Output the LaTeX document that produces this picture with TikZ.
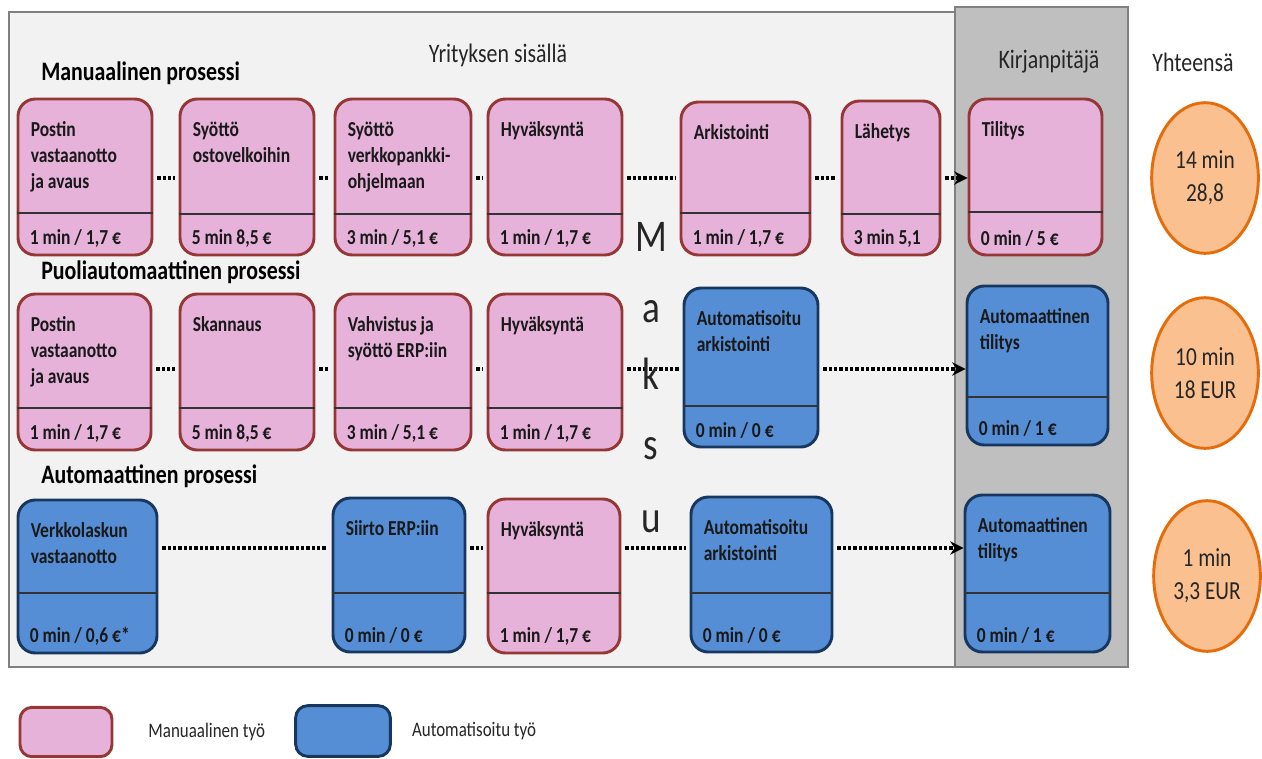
\documentclass[tikz,border=0pt]{standalone}
\usepackage{fontspec}
\setmainfont{Carlito}[FakeStretch=0.82]
\usetikzlibrary{arrows.meta,shapes.geometric,positioning}

\definecolor{rosa}{RGB}{230,178,218}
\definecolor{rosareuna}{RGB}{149,55,53}
\definecolor{sininen}{RGB}{85,142,213}
\definecolor{sinireuna}{RGB}{23,55,94}
\definecolor{oranssi}{RGB}{250,192,144}
\definecolor{oranssireuna}{RGB}{228,108,10}
\definecolor{paneeli}{RGB}{242,242,242}
\definecolor{sarake}{RGB}{191,191,191}
\definecolor{reuna}{RGB}{128,128,128}

\tikzset{
  laatikko/.style={rounded corners=13pt, line width=2.2pt, inner sep=0pt},
  manuaali/.style={laatikko, draw=rosareuna, fill=rosa},
  automaatti/.style={laatikko, draw=sinireuna, fill=sininen},
  vaiheteksti/.style={font=\fontsize{16}{19.5}\selectfont\bfseries, align=left, inner sep=0pt, text=black!90},
  jakoviiva/.style={line width=1.1pt, black!80},
  pisteet/.style={line width=2.8pt, dash pattern=on 2.4pt off 1.6pt, shorten <=3pt, shorten >=3pt},
  nuoli/.style={pisteet, shorten >=0pt, -{Stealth[length=10pt,width=10pt]}},
  yhteensa/.style={ellipse, draw=oranssireuna, fill=oranssi, line width=2.2pt, minimum width=80pt, minimum height=113pt, inner sep=0pt, font=\fontsize{19.5}{25}\selectfont, align=center, text=black!85},
  otsikko/.style={font=\fontsize{20}{24}\selectfont\bfseries, anchor=west, inner sep=0pt},
  alue/.style={font=\fontsize{20}{24}\selectfont, text=black!85, inner sep=0pt},
  maksu/.style={font=\fontsize{34}{40}\selectfont, text=black!85, inner sep=0pt},
  seliteteksti/.style={font=\fontsize{15.5}{18}\selectfont, text=black!85, inner sep=0pt},
}

% laatikko: nimi, tyyli, vasen, ylä, oikea, ala, jakoviiva, otsikko, aika/hinta
\newcommand{\vaihe}[9]{%
  \node[#2, minimum width={(#5-#3)*0.75pt}, minimum height={(#6-#4)*0.75pt}] (#1) at ({(#3+#5)/2},{(#4+#6)/2}) {};
  \draw[jakoviiva] (#1.west |- 0,#7) -- (#1.east |- 0,#7);
  \node[vaiheteksti, anchor=north west] (#1-nimi) at ([shift={(14,24)}]#1.north west) {#8};
  \node[vaiheteksti, anchor=west] (#1-aika) at ([shift={(13,-18)}]#1.south west) {#9};
}

\begin{document}
\begin{tikzpicture}[x=0.75pt, y=-0.75pt]
  \useasboundingbox (0,0) rectangle (1262,758);

  % Taustat
  \draw[fill=paneeli, draw=reuna, line width=2.2pt] (9,12) rectangle (1000,667);
  \draw[fill=sarake, draw=reuna, line width=2.2pt] (955,7) rectangle (1128,667);

  % Otsikot
  \node[alue] (yritys) at (498,55) {Yrityksen sisällä};
  \node[alue] (kirjanpitaja) at (1049,62) {Kirjanpitäjä};
  \node[alue] (yhteensa) at (1193,62) {Yhteensä};
  \node[otsikko] (manuaalinen) at (41,73) {Manuaalinen prosessi};
  \node[otsikko] (puoliautom) at (41,272) {Puoliautomaattinen prosessi};
  \node[otsikko] (automaattinen) at (41,476) {Automaattinen prosessi};

  % Manuaalinen prosessi
  \vaihe{m1}{manuaali}{18}{99}{152}{255}{213}{Postin\\vastaanotto\\ja avaus}{1 min / 1,7 €}
  \vaihe{m2}{manuaali}{180}{99}{314}{255}{214}{Syöttö\\ostovelkoihin}{5 min 8,5 €}
  \vaihe{m3}{manuaali}{335}{99}{471}{255}{214}{Syöttö\\verkkopankki-\\ohjelmaan}{3 min / 5,1 €}
  \vaihe{m4}{manuaali}{488}{99}{622}{255}{214}{Hyväksyntä}{1 min / 1,7 €}
  \vaihe{m5}{manuaali}{681}{102}{810}{255}{213}{Arkistointi}{1 min / 1,7 €}
  \vaihe{m6}{manuaali}{842}{101}{940}{255}{214}{Lähetys}{3 min 5,1}
  \vaihe{m7}{manuaali}{969}{99}{1102}{255}{212}{Tilitys}{0 min / 5 €}

  % Puoliautomaattinen prosessi
  \vaihe{p1}{manuaali}{18}{294}{151}{450}{408}{Postin\\vastaanotto\\ja avaus}{1 min / 1,7 €}
  \vaihe{p2}{manuaali}{180}{294}{314}{450}{408}{Skannaus}{5 min 8,5 €}
  \vaihe{p3}{manuaali}{335}{294}{471}{450}{408}{Vahvistus ja\\syöttö ERP:iin}{3 min / 5,1 €}
  \vaihe{p4}{manuaali}{488}{294}{622}{450}{408}{Hyväksyntä}{1 min / 1,7 €}
  \vaihe{p5}{automaatti}{684}{288}{818}{447}{406}{Automatisoitu\\arkistointi}{0 min / 0 €}
  \vaihe{p6}{automaatti}{967}{286}{1108}{445}{397}{Automaattinen\\tilitys}{0 min / 1 €}

  % Automaattinen prosessi
  \vaihe{a1}{automaatti}{18}{500}{157}{653}{593}{Verkkolaskun\\vastaanotto}{0 min / 0,6 €*}
  \vaihe{a2}{automaatti}{333}{498}{465}{652}{593}{Siirto ERP:iin}{0 min / 0 €}
  \vaihe{a3}{manuaali}{488}{499}{620}{653}{593}{Hyväksyntä}{1 min / 1,7 €}
  \vaihe{a4}{automaatti}{691}{497}{832}{652}{593}{Automatisoitu\\arkistointi}{0 min / 0 €}
  \vaihe{a5}{automaatti}{965}{495}{1110}{652}{593}{Automaattinen\\tilitys}{0 min / 1 €}

  % Yhteydet
  \coordinate (r1) at (0,178);
  \coordinate (r2) at (0,369);
  \coordinate (r3) at (0,548);
  \foreach \a/\b in {m1/m2,m2/m3,m3/m4,m4/m5,m5/m6}
    \draw[pisteet] (\a.east |- r1) -- (\b.west |- r1);
  \draw[nuoli] (m6.east |- r1) -- (m7.west |- r1);
  \foreach \a/\b in {p1/p2,p2/p3,p3/p4,p4/p5}
    \draw[pisteet] (\a.east |- r2) -- (\b.west |- r2);
  \draw[nuoli] (p5.east |- r2) -- (p6.west |- r2);
  \foreach \a/\b in {a1/a2,a2/a3,a3/a4}
    \draw[pisteet] (\a.east |- r3) -- (\b.west |- r3);
  \draw[nuoli] (a4.east |- r3) -- (a5.west |- r3);

  % Maksu pystyyn
  \foreach \k/\y [count=\i] in {M/237,a/312,k/374,s/449,u/522}
    \node[maksu] (maksu\i) at (651,\y) {\k};

  % Yhteensä
  \node[yhteensa] (summa1) at (1205,178) {14 min\\28,8};
  \node[yhteensa] (summa2) at (1205,373) {10 min\\18 EUR};
  \node[yhteensa] (summa3) at (1207,576) {1 min\\3,3 EUR};

  % Selite
  \node[manuaali, rounded corners=9pt, minimum width=69pt, minimum height=37pt] (selite1) at (66,732) {};
  \node[seliteteksti, right=26pt of selite1] (selite1-teksti) {Manuaalinen työ};
  \node[automaatti, rounded corners=9pt, minimum width=71pt, minimum height=38pt] (selite2) at (343,731) {};
  \node[seliteteksti, right=15pt of selite2] (selite2-teksti) {Automatisoitu työ};
\end{tikzpicture}
\end{document}
